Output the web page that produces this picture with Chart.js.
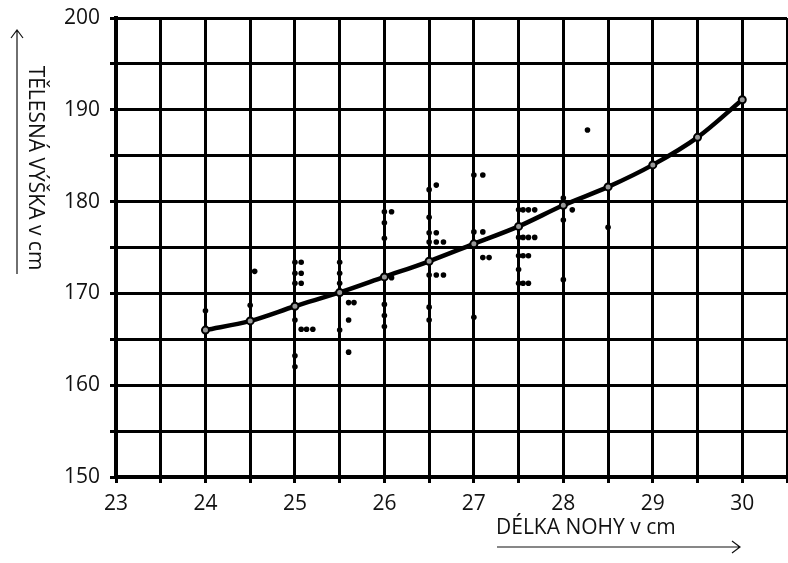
<!DOCTYPE html>
<html>
<head>
<meta charset="utf-8">
<script src="https://cdn.jsdelivr.net/npm/chart.js@4"></script>
<style>
  html, body { margin: 0; padding: 0; background: #fff; overflow: hidden; }
  /* a few px wider than the window so the last grid column runs off the right edge */
  #wrap { width: 793px; height: 563px; position: relative; }
</style>
</head>
<body>
<div id="wrap"><canvas id="myChart"></canvas></div>
<script>
// Foot length (cm) and the fitted body height curve (cm)
const footLength = [24, 24.5, 25, 25.5, 26, 26.5, 27, 27.5, 28, 28.5, 29, 29.5, 30];
const heightCurve = [166, 167, 168.6, 170.1, 171.8, 173.5, 175.4, 177.3, 179.6, 181.6, 184.0, 187.0, 191.1];

// Measured pupils: foot length / body height
const sampleFoot = [
    24, 24.5, 24.55,
    25, 25, 25, 25, 25, 25,
    25.07, 25.07, 25.07, 25.07, 25.13, 25.2,
    25.5, 25.5, 25.5, 25.5, 25.6, 25.6, 25.6, 25.66,
    26, 26, 26, 26, 26, 26, 26.08, 26.08,
    26.5, 26.5, 26.5, 26.5, 26.5, 26.5, 26.5, 26.58, 26.58, 26.58, 26.58, 26.66, 26.66,
    27, 27, 27, 27.1, 27.1, 27.1, 27.17,
    27.5, 27.5, 27.5, 27.5, 27.5, 27.55, 27.55, 27.55, 27.55,
    27.61, 27.61, 27.61, 27.61, 27.68, 27.68,
    28, 28, 28, 28.1, 28.27, 28.5
];
const sampleHeight = [
    168.1, 168.7, 172.4,
    173.4, 172.2, 171.1, 167.1, 163.2, 162.0,
    173.4, 172.2, 171.1, 166.1, 166.1, 166.1,
    173.4, 172.2, 171.1, 166.0, 169.0, 167.1, 163.6, 169.0,
    178.9, 177.7, 176.0, 168.8, 167.6, 166.4, 178.9, 171.7,
    181.3, 178.3, 176.6, 175.6, 172.0, 168.5, 167.1, 181.8, 176.6, 175.6, 172.0, 175.6, 172.0,
    182.9, 176.7, 167.4, 182.9, 176.7, 173.9, 173.9,
    179.1, 176.1, 174.1, 172.6, 171.1, 179.1, 176.1, 174.1, 171.1,
    179.1, 176.1, 174.1, 171.1, 179.1, 176.1,
    180.4, 178.0, 171.5, 179.1, 187.8, 177.2
];

const xTitle = 'DÉLKA NOHY v cm';
const yTitle = 'TĚLESNÁ VÝŠKA v cm';

const FONT = '"Open Sans", "Noto Sans", sans-serif';

// Axis captions with their arrows
const axisCaptions = {
    id: 'axisCaptions',
    afterDraw(chart) {
        const ctx = chart.ctx;
        ctx.save();
        ctx.fillStyle = '#111';
        ctx.strokeStyle = '#111';
        ctx.lineWidth = 1.2;
        ctx.font = '21px ' + FONT;

        // x caption, underlined by an arrow pointing right
        ctx.textAlign = 'left';
        ctx.textBaseline = 'alphabetic';
        ctx.fillText(xTitle, 496, 534);
        ctx.beginPath();
        ctx.moveTo(497, 547);
        ctx.lineTo(740, 547);
        ctx.moveTo(732, 541);
        ctx.lineTo(740, 547);
        ctx.lineTo(732, 553);
        ctx.stroke();

        // y caption, rotated, with an arrow pointing up
        ctx.save();
        ctx.translate(29, 168);
        ctx.rotate(Math.PI / 2);
        ctx.textAlign = 'center';
        ctx.fillText(yTitle, 0, 0);
        ctx.restore();
        ctx.beginPath();
        ctx.moveTo(17, 274);
        ctx.lineTo(17, 30);
        ctx.moveTo(11, 38);
        ctx.lineTo(17, 30);
        ctx.lineTo(23, 38);
        ctx.stroke();
        ctx.restore();
    }
};

const ctx = document.getElementById('myChart').getContext('2d');
window.myChart = new Chart(ctx, {
    type: 'scatter',
    data: {
        datasets: [
            {
                label: 'curve',
                type: 'line',
                data: footLength.map((x, i) => ({ x: x, y: heightCurve[i] })),
                borderColor: '#000',
                borderWidth: 4.5,
                cubicInterpolationMode: 'monotone',
                pointRadius: 3.5,
                pointBackgroundColor: '#999',
                pointBorderColor: '#000',
                pointBorderWidth: 2,
                order: 1
            },
            {
                label: 'pupils',
                data: sampleFoot.map((x, i) => ({ x: x, y: sampleHeight[i] })),
                pointRadius: 2.8,
                pointBackgroundColor: '#000',
                pointBorderColor: '#000',
                pointBorderWidth: 0,
                order: 2
            }
        ]
    },
    options: {
        responsive: true,
        maintainAspectRatio: false,
        animation: false,
        layout: { padding: { top: 18, right: 0, left: 0, bottom: 0 } },
        plugins: {
            legend: { display: false },
            tooltip: { enabled: false }
        },
        scales: {
            x: {
                type: 'linear',
                min: 23,
                max: 30.5,
                afterFit: (scale) => {
                    scale.height = 86;
                    scale.paddingLeft = 0;
                    scale.paddingRight = 0;
                },
                border: { color: '#000', width: 4 },
                grid: { color: '#000', lineWidth: 3, tickLength: 6, tickColor: '#000' },
                ticks: {
                    stepSize: 0.5,
                    padding: 8,
                    color: '#111',
                    font: { family: FONT, size: 21 },
                    maxRotation: 0,
                    autoSkip: false,
                    callback: (v) => Number.isInteger(v) ? v : ''
                }
            },
            y: {
                min: 150,
                max: 200,
                afterFit: (scale) => {
                    scale.width = 116;
                    scale.paddingTop = 0;
                    scale.paddingBottom = 0;
                },
                border: { color: '#000', width: 4 },
                grid: { color: '#000', lineWidth: 3, tickLength: 6, tickColor: '#000' },
                ticks: {
                    stepSize: 5,
                    padding: 10,
                    color: '#111',
                    font: { family: FONT, size: 21 },
                    autoSkip: false,
                    callback: (v) => v % 10 === 0 ? v : ''
                }
            }
        }
    },
    plugins: [axisCaptions]
});
</script>
</body>
</html>
